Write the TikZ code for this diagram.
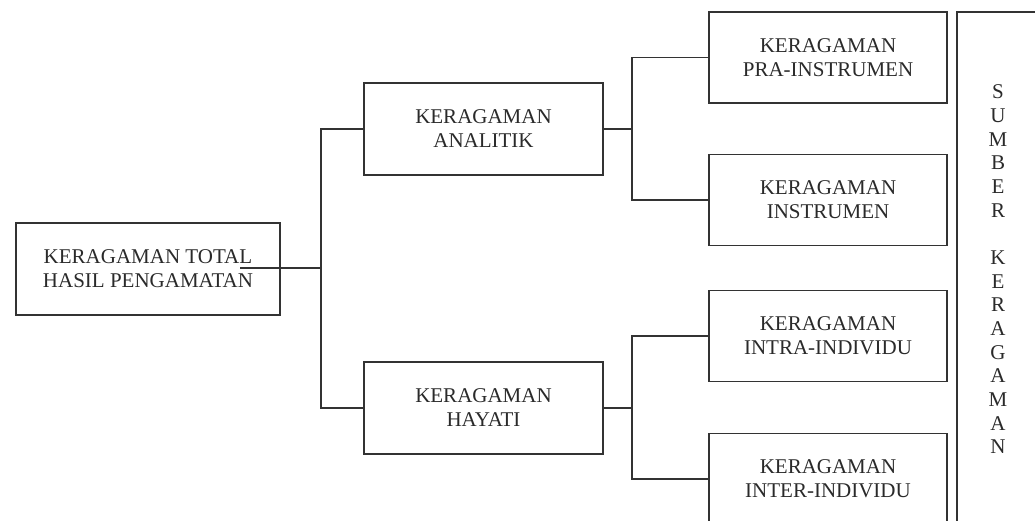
\documentclass[tikz,border=0pt]{standalone}
\usepackage{fontspec}
\setmainfont{Liberation Serif}
\definecolor{ink}{HTML}{2A2A2A}
\definecolor{rule}{HTML}{333333}
\begin{document}
\begin{tikzpicture}[x=0.75pt,y=-0.75pt,
  line width=1.1pt, draw=rule,
  box/.style={draw=rule, line width=1.1pt, align=center, inner sep=0pt,
    text=ink, font=\fontsize{15.75}{18}\selectfont},
  wide/.style={box, minimum width=198pt, minimum height=69pt},
  mid/.style={box, minimum width=179.25pt, minimum height=69pt},
  leaf/.style={box, minimum width=178.5pt, minimum height=68.25pt},
  wire/.style={draw=rule, line width=1.1pt}]
\useasboundingbox (0,0) rectangle (1035,521);
\clip (0,0) rectangle (1035,521);

% boxes
\node[wide] (total) at (148,269) {KERAGAMAN TOTAL\\HASIL PENGAMATAN};
\node[mid] (analitik) at (483.5,129) {KERAGAMAN\\ANALITIK};
\node[mid] (hayati) at (483.5,408) {KERAGAMAN\\HAYATI};
\node[leaf] (pra) at (828,57.5) {KERAGAMAN\\PRA-INSTRUMEN};
\node[leaf] (instr) at (828,200) {KERAGAMAN\\INSTRUMEN};
\node[leaf] (intra) at (828,336) {KERAGAMAN\\INTRA-INDIVIDU};
\node[leaf] (inter) at (828,479) {KERAGAMAN\\INTER-INDIVIDU};

% tall side panel, open at the right and bottom
\draw[wire] (1045,12) -- (957,12) -- (957,530);
\node[align=center, inner sep=0pt, text=ink,
  font=\fontsize{15.75}{17.75}\selectfont] (sumber) at (998,269.5)
  {S\\U\\M\\B\\E\\R\\[17.75pt]K\\E\\R\\A\\G\\A\\M\\A\\N};

% junctions
\coordinate (tstart) at (240,268);
\coordinate (j1) at (321,268);
\coordinate (j2) at (632,129);
\coordinate (j3) at (632,408);

% connectors
\draw[wire] (tstart) -- (j1);
\draw[wire] (analitik.west) -| (j1);
\draw[wire] (hayati.west) -| (j1);
\draw[wire] (analitik.east) -- (j2);
\draw[wire] (pra.west) -| (j2);
\draw[wire] (instr.west) -| (j2);
\draw[wire] (hayati.east) -- (j3);
\draw[wire] (intra.west) -| (j3);
\draw[wire] (inter.west) -| (j3);
\end{tikzpicture}
\end{document}
